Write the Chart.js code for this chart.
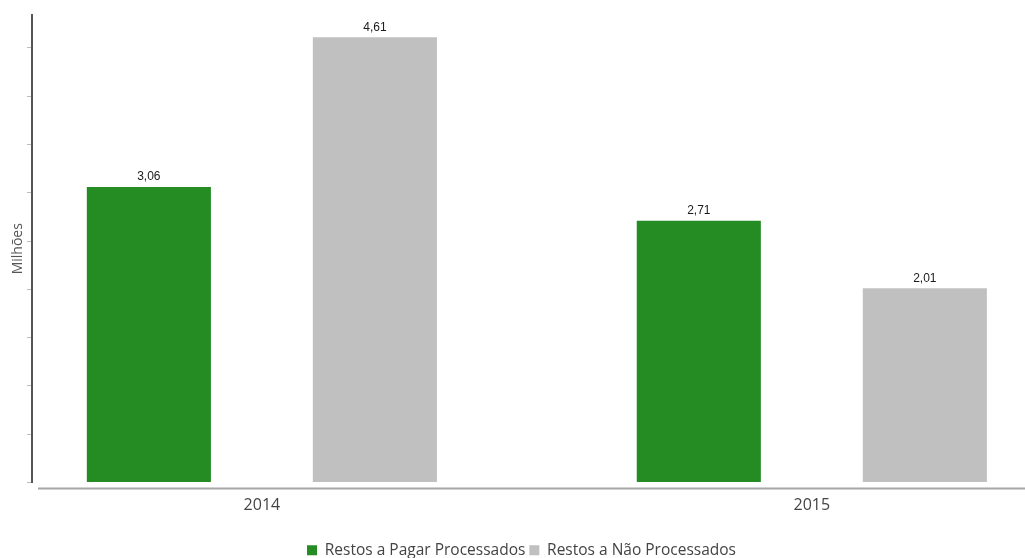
<!DOCTYPE html>
<html>
<head>
<meta charset="utf-8">
<title>Restos a Pagar</title>
<script src="https://cdn.jsdelivr.net/npm/chart.js@4.4.1/dist/chart.umd.min.js"></script>
<style>
    html, body { margin: 0; padding: 0; background: #ffffff; }
    #wrap { width: 1025px; height: 558px; }
</style>
</head>
<body>
<div id="wrap"><canvas id="restosChart"></canvas></div>
<script>
// chart data
const years = [2014, 2015];
const processados = [3.06, 2.71];
const naoProcessados = [4.61, 2.01];
const seriesNames = ['Restos a Pagar Processados', 'Restos a Não Processados'];
const seriesColors = ['#248c22', '#c0c0c0'];
const yMax = 4.84;      // top of the value axis (millions)
const yStep = 0.5;      // unlabelled tick marks every half million

// x range picked so the two year groups sit where the original has them
const xMin = 2013.582;
const xMax = 2015.384;

const toPoints = arr => years.map((yr, i) => ({ x: yr, y: arr[i] }));

// value labels over each bar ("4,61")
const barLabels = {
    id: 'barLabels',
    afterDatasetsDraw(chart) {
        const ctx = chart.ctx;
        ctx.save();
        ctx.font = '12px "Liberation Sans", Arial, sans-serif';
        ctx.fillStyle = '#1a1a1a';
        ctx.textAlign = 'center';
        ctx.textBaseline = 'middle';
        chart.data.datasets.forEach((ds, di) => {
            chart.getDatasetMeta(di).data.forEach((bar, i) => {
                const txt = ds.data[i].y.toFixed(2).replace('.', ',');
                ctx.fillText(txt, bar.x, bar.y - 10);
            });
        });
        ctx.restore();
    }
};

// the thin grey base line under the bars, a bit detached from the y axis
const baseLine = {
    id: 'baseLine',
    afterDraw(chart) {
        const { ctx, chartArea } = chart;
        ctx.save();
        ctx.strokeStyle = '#a6a6a6';
        ctx.lineWidth = 2;
        ctx.beginPath();
        ctx.moveTo(chartArea.left + 6, chartArea.bottom + 6);
        ctx.lineTo(chart.width, chartArea.bottom + 6);
        ctx.stroke();
        ctx.restore();
    }
};

document.addEventListener('DOMContentLoaded', () => {
    const ctx = document.getElementById('restosChart').getContext('2d');
    new Chart(ctx, {
        type: 'bar',
        data: {
            datasets: [
                { label: seriesNames[0], data: toPoints(processados), backgroundColor: seriesColors[0] },
                { label: seriesNames[1], data: toPoints(naoProcessados), backgroundColor: seriesColors[1] }
            ]
        },
        options: {
            responsive: true,
            maintainAspectRatio: false,
            animation: false,
            categoryPercentage: 0.822,
            barPercentage: 0.549,
            // left padding nudges the legend over; the y axis box is narrowed to match
            layout: { padding: { top: 15, right: 2, bottom: -10, left: 20 } },
            plugins: {
                tooltip: { enabled: false },
                legend: {
                    position: 'bottom',
                    labels: {
                        boxWidth: 10,
                        boxHeight: 10,
                        padding: 4,
                        color: '#444444',
                        font: { family: "'Open Sans'", size: 15.5 }
                    }
                }
            },
            scales: {
                x: {
                    type: 'linear',
                    offset: false,
                    min: xMin,
                    max: xMax,
                    grid: { display: false, drawTicks: false },
                    border: { display: false },
                    afterBuildTicks: scale => { scale.ticks = years.map(v => ({ value: v })); },
                    afterFit: scale => { scale.height = 56; },
                    ticks: {
                        padding: 13,
                        color: '#444444',
                        font: { family: "'Open Sans'", size: 16 },
                        callback: v => String(v)
                    }
                },
                y: {
                    min: 0,
                    max: yMax,
                    afterFit: scale => { scale.width = 12; },
                    ticks: { display: false, stepSize: yStep, includeBounds: false },
                    grid: { drawOnChartArea: false, drawTicks: true, tickLength: 5, color: '#bdbdbd' },
                    border: { color: '#555555', width: 2 },
                    title: {
                        display: true,
                        text: 'Milhões',
                        color: '#555555',
                        padding: { top: -10, bottom: 0 },
                        font: { family: "'Open Sans'", size: 14 }
                    }
                }
            }
        },
        plugins: [barLabels, baseLine]
    });
});
</script>
</body>
</html>
